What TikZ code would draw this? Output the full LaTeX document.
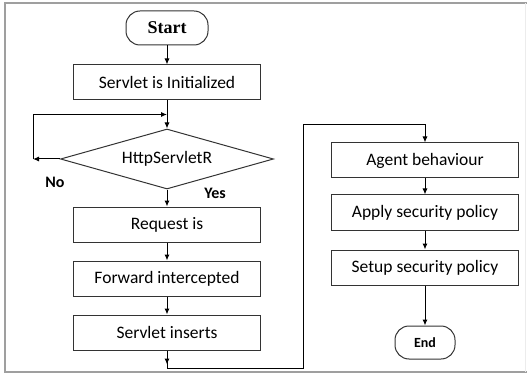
\documentclass[tikz,border=0pt]{standalone}
\usepackage{fontspec}
\setmainfont{Carlito}
\newfontfamily\startfont{Liberation Serif}
\usetikzlibrary{arrows.meta,positioning,calc,shapes.geometric}

\begin{document}
\begin{tikzpicture}[x=1pt,y=1pt,
  font=\fontsize{17.5}{19}\selectfont,
  line width=1pt,
  box/.style={draw=black!80,minimum width=187pt,minimum height=35pt,inner sep=2pt},
  term/.style={draw=black!80,rounded corners=14pt,minimum height=34pt,inner sep=2pt},
  dec/.style={draw=black!80,diamond,aspect=3.5,minimum width=213pt,minimum height=60pt,inner sep=0pt},
  arr/.style={-{Latex[length=6pt,width=5pt]}},
  lbl/.style={font=\fontsize{16}{18}\selectfont\bfseries}]
\useasboundingbox (0,0) rectangle (527,-374);
\draw[gray!75,line width=1.5pt] (527,-3) -- (5,-3) -- (5,-372) -- (527,-372);
\draw[gray!15] (525,-3) -- (525,-372);
\node[term,minimum width=82pt,font=\fontsize{18}{20}\selectfont\startfont\bfseries] (start) at (167,-28) {Start};
\node[box,below=19pt of start] (init) {Servlet is Initialized};
\node[dec,below=28pt of init] (chk) {HttpServletR};
\node[box,below=17pt of chk] (req) {Request is};
\node[box,below=18pt of req] (fwd) {Forward intercepted};
\node[box,below=18pt of fwd] (ins) {Servlet inserts};
\node[box] (agent) at (425,-160.5) {Agent behaviour};
\node[box,below=16pt of agent] (apply) {Apply security policy};
\node[box,below=19pt of apply] (setup) {Setup security policy};
\node[term,minimum width=60pt,minimum height=33pt,below=40pt of setup,
  font=\fontsize{14}{16}\selectfont\bfseries] (stop) {End};
\node[lbl] (no) at (55,-182) {No};
\node[lbl] (yes) at (215,-193) {Yes};
\coordinate (nol) at ($(chk.west)+(-27,0)$);
\coordinate (join) at ($(init.south)!0.5!(chk.north)$);
\coordinate (c1) at ($(ins.south)+(0,-18)$);
\coordinate (c2) at (303,-125);
\draw[arr] (start) -- (init);
\draw[arr] (init) -- (chk);
\draw[arr] (chk.west) -- (nol);
\draw[arr] (nol) |- (join);
\draw[arr] (chk) -- (req);
\draw[arr] (req) -- (fwd);
\draw[arr] (fwd) -- (ins);
\draw[arr] (ins) -- ($(c1)+(0,4)$);
\draw[arr] (c1) -| (c2) -| (agent);
\draw (ins) -- (c1);
\draw[arr] (agent) -- (apply);
\draw[arr] (apply) -- (setup);
\draw[arr] (setup) -- (stop);
\end{tikzpicture}
\end{document}
